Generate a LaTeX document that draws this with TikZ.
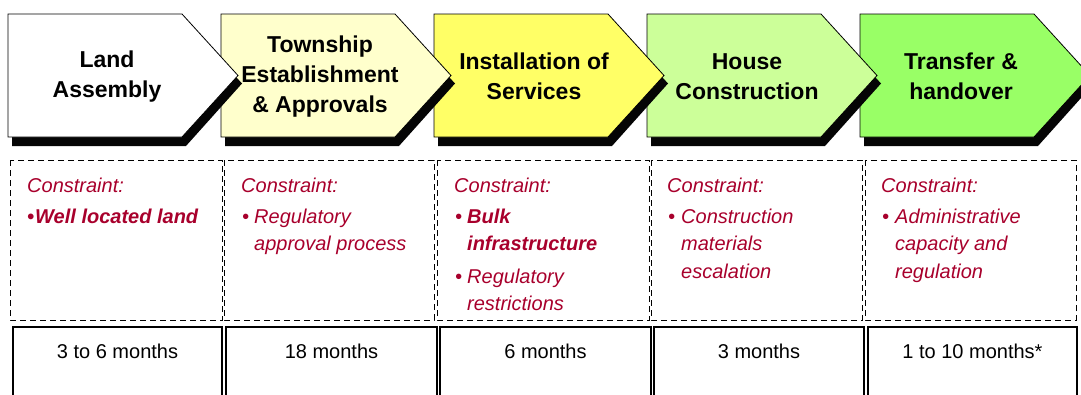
\documentclass[tikz,border=0pt]{standalone}
\usepackage{fontspec}
\setmainfont{Liberation Sans}
\definecolor{cons}{HTML}{A8002C}
\definecolor{c2}{HTML}{FFFFCC}
\definecolor{c3}{HTML}{FFFF66}
\definecolor{c4}{HTML}{CCFF99}
\definecolor{c5}{HTML}{99FF66}
\definecolor{shadowcol}{HTML}{050505}
\tikzset{
  chev/.style={draw=black, line width=0.8pt, line join=miter},
  chevtext/.style={font=\bfseries\fontsize{23}{30}\selectfont, align=center, text=black, inner sep=0pt},
  dbox/.style={draw=black, line width=1pt, dash pattern=on 6pt off 4pt},
  mbox/.style={draw=black, line width=1.3pt},
  ctext/.style={anchor=base west, inner sep=0pt, text=cons, font=\itshape\fontsize{20}{24}\selectfont},
  btext/.style={ctext, font=\bfseries\itshape\fontsize{20}{24}\selectfont},
  mtext/.style={anchor=base, inner sep=0pt, font=\fontsize{20}{24}\selectfont},
}
\begin{document}
\begin{tikzpicture}[x=1pt, y=-1pt]
\useasboundingbox (0,0) rectangle (1081,394);
% chevrons with shadows, drawn right to left so each tip lies over the next
\path[fill=shadowcol] (864,22) -- (1038,22) -- (1094,83.5) -- (1038,146) -- (864,146) -- cycle;
\path[chev, fill=c5] (860,14) -- (1034,14) -- (1090,75.5) -- (1034,137) -- (860,137) -- cycle;
\path[fill=shadowcol] (651,22) -- (825,22) -- (881,83.5) -- (825,146) -- (651,146) -- cycle;
\path[chev, fill=c4] (647,14) -- (821,14) -- (877,75.5) -- (821,137) -- (647,137) -- cycle;
\path[fill=shadowcol] (438,22) -- (612,22) -- (668,83.5) -- (612,146) -- (438,146) -- cycle;
\path[chev, fill=c3] (434,14) -- (608,14) -- (664,75.5) -- (608,137) -- (434,137) -- cycle;
\path[fill=shadowcol] (225,22) -- (399,22) -- (455,83.5) -- (399,146) -- (225,146) -- cycle;
\path[chev, fill=c2] (221,14) -- (395,14) -- (451,75.5) -- (395,137) -- (221,137) -- cycle;
\path[fill=shadowcol] (12,22) -- (186,22) -- (242,83.5) -- (186,146) -- (12,146) -- cycle;
\path[chev, fill=white] (8,14) -- (182,14) -- (238,75.5) -- (182,137) -- (8,137) -- cycle;
\node[chevtext] (h1) at (107,76.5) {Land\\Assembly};
\node[chevtext] (h2) at (320,76.5) {Township\\Establishment\\\& Approvals};
\node[chevtext] (h3) at (534,76.5) {Installation of\\Services};
\node[chevtext] (h4) at (747,76.5) {House\\Construction};
\node[chevtext] (h5) at (961,76.5) {Transfer \&\\handover};
% dashed constraint boxes
\draw[dbox] (10,160) rectangle (222,320);
\draw[dbox] (224,160) rectangle (434,320);
\draw[dbox] (437,160) rectangle (649,320);
\draw[dbox] (651,160) rectangle (862,320);
\draw[dbox] (865,160) rectangle (1076,320);
% box 1
\node[ctext] (k1) at (27,192) {Constraint:};
\node[btext] (k1a) at (27,223) {\textbullet\kern1pt Well located land};
% box 2
\node[ctext] (k2) at (241,192) {Constraint:};
\node[ctext] (b2) at (242,223) {\textbullet};
\node[ctext] (k2a) at (254,223) {Regulatory};
\node[ctext] (k2b) at (254,250.5) {approval process};
% box 3
\node[ctext] (k3) at (454,192) {Constraint:};
\node[ctext] (b3a) at (455,223) {\textbullet};
\node[btext] (k3a) at (467,223) {Bulk};
\node[btext] (k3b) at (467,250.5) {infrastructure};
\node[ctext] (b3b) at (455,283) {\textbullet};
\node[ctext] (k3c) at (467,283) {Regulatory};
\node[ctext] (k3d) at (467,310) {restrictions};
% box 4
\node[ctext] (k4) at (667,192) {Constraint:};
\node[ctext] (b4) at (668,223) {\textbullet};
\node[ctext] (k4a) at (681,223) {Construction};
\node[ctext] (k4b) at (681,250.5) {materials};
\node[ctext] (k4c) at (681,278) {escalation};
% box 5
\node[ctext] (k5) at (881,192) {Constraint:};
\node[ctext] (b5) at (882,223) {\textbullet};
\node[ctext] (k5a) at (895,223) {Administrative};
\node[ctext] (k5b) at (895,250.5) {capacity and};
\node[ctext] (k5c) at (895,278) {regulation};
% duration boxes
\draw[mbox] (13,327) rectangle (222,400);
\draw[mbox] (226,327) rectangle (437,400);
\draw[mbox] (440,327) rectangle (651,400);
\draw[mbox] (654,327) rectangle (864,400);
\draw[mbox] (868,327) rectangle (1077,400);
\node[mtext] (m1) at (117.5,358) {3 to 6 months};
\node[mtext] (m2) at (331.5,358) {18 months};
\node[mtext] (m3) at (545.5,358) {6 months};
\node[mtext] (m4) at (759,358) {3 months};
\node[mtext] (m5) at (972.5,358) {1 to 10 months*};
\end{tikzpicture}
\end{document}
